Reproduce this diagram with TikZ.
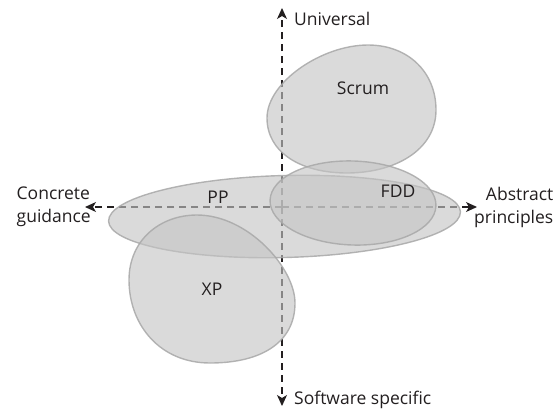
\documentclass[tikz,border=0pt]{standalone}
\usepackage{fontspec}
\setmainfont{Open Sans}
\usepackage{tikz}
\usetikzlibrary{arrows,arrows.meta}
\tikzset{>=stealth}
\definecolor{blobfill}{HTML}{C4C4C4}
\definecolor{blobline}{HTML}{A8A8A8}
\definecolor{ink}{HTML}{231F20}

\begin{document}
\begin{tikzpicture}[x=1pt,y=-1pt,
        axis/.style={dashed,dash pattern=on 7pt off 5pt,line width=1.2pt,ink,-{Stealth[length=11pt,width=10pt,inset=3pt]}},
        blob/.style={fill=blobfill,fill opacity=.62,draw=blobline,draw opacity=.85,line width=1.4pt},
        lbl/.style={font=\fontsize{17.5}{18}\selectfont,text=ink,inner sep=0pt}]
        \useasboundingbox (0,0) rectangle (556,410);
        % axes
        \coordinate (c) at (282,207);
        \coordinate (up) at (282,8);
        \coordinate (down) at (282,406);
        \coordinate (left) at (85,207);
        \coordinate (right) at (477,207);
        \draw [axis](c)--(up);
        \draw [axis](c)--(down);
        \draw [axis](c)--(left);
        \draw [axis](c)--(right);
        % regions
        \draw [blob] (368,45) .. controls (408,45) and (436,72) .. (436,110)
            .. controls (436,150) and (395,173) .. (347,173)
            .. controls (300,173) and (267,152) .. (267,118)
            .. controls (267,82) and (322,45) .. (368,45) -- cycle;
        \draw [blob,rotate around={1.5:(284.5,216.5)}] (284.5,216.5) ellipse (176 and 41);
        \draw [blob,rotate around={-2:(353,203)}] (353,203) ellipse (83 and 42);
        \draw [blob] (197,215) .. controls (248,215) and (295,268) .. (295,303)
            .. controls (295,342) and (262,363) .. (210,363)
            .. controls (160,363) and (129,325) .. (129,280)
            .. controls (129,240) and (160,215) .. (197,215) -- cycle;
        % labels
        \node (scrum) at (363,88)[lbl]{Scrum};
        \node (pp) at (218,197)[lbl]{PP};
        \node (fdd) at (398,191)[lbl]{FDD};
        \node (xp) at (212,289)[lbl]{XP};
        \node (univ) at (up)[lbl,anchor=west,xshift=12pt,yshift=-11pt]{Universal};
        \node (soft) at (down)[lbl,anchor=west,xshift=12pt,yshift=6pt]{Software specific};
        \node (conc) at (left)[lbl,anchor=east,align=left,xshift=6pt]{Concrete\\[5pt]guidance};
        \node (abst) at (right)[lbl,anchor=west,align=right,xshift=-3pt]{Abstract\\[5pt]principles};
\end{tikzpicture}
\end{document}
